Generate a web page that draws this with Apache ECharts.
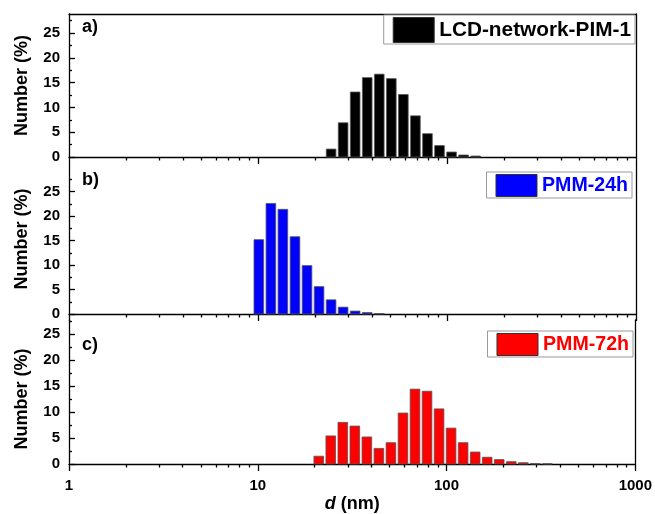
<!DOCTYPE html>
<html><head><meta charset="utf-8">
<script src="https://cdn.jsdelivr.net/npm/echarts@6/dist/echarts.min.js"></script>
<style>html,body{margin:0;padding:0;background:#fff}#c{width:655px;height:514px}</style>
</head><body><div id="c"></div>
<script>
// DLS size classes (nm) and number distributions (%)
const binsA = [24.36, 28.21, 32.67, 37.84, 43.82, 50.75, 58.77, 68.06, 78.82, 91.28, 105.7, 122.4, 141.8];
const valuesA = [1.6, 6.9, 13.1, 16.0, 16.7, 15.8, 12.6, 8.3, 4.7, 2.3, 1.0, 0.4, 0.2];
const binsB = [10.1, 11.7, 13.54, 15.69, 18.17, 21.04, 24.36, 28.21, 32.67, 37.84, 43.82];
const valuesB = [15.2, 22.6, 21.4, 15.8, 9.9, 5.6, 2.9, 1.4, 0.6, 0.3, 0.1];
const binsC = [21.04, 24.36, 28.21, 32.67, 37.84, 43.82, 50.75, 58.77, 68.06, 78.82, 91.28, 105.7, 122.4, 141.8, 164.2, 190.1, 220.2, 255.0, 295.3, 342.0];
const valuesC = [1.5, 5.4, 8.0, 7.3, 5.2, 3.0, 4.1, 9.8, 14.4, 14.0, 10.6, 6.9, 4.1, 2.3, 1.3, 0.85, 0.45, 0.25, 0.08, 0.05];
const seriesNames = ['LCD-network-PIM-1', 'PMM-24h', 'PMM-72h'];
const panelLetters = ['a)', 'b)', 'c)'];
const xMajorTicks = [1, 10, 100, 1000];
const xMinorTicks = [2,3,4,5,6,7,8,9,20,30,40,50,60,70,80,90,200,300,400,500,600,700,800,900];
const yMajorTicks = [0, 5, 10, 15, 20, 25];
const yMinorTicks = [2.5, 7.5, 12.5, 17.5, 22.5, 27.5];

const FONT = "'Liberation Sans', Arial, sans-serif";
const colors = ['#000000', '#0000ff', '#ff0000'];
const textColors = ['#000000', '#0000ff', '#ff0000'];
const panels = [
  {top: 14, height: 143, ymax: 28.83, bins: binsA, vals: valuesA, legTop: 15, legRight: 20, itemH: 25, fs: 20.8},
  {top: 164, height: 150, ymax: 30.67, bins: binsB, vals: valuesB, legTop: 172, legRight: 23, itemH: 22, fs: 19.6},
  {top: 320, height: 154, ymax: 27.7, bins: binsC, vals: valuesC, legTop: 331, legRight: 22, itemH: 22, fs: 19.6}
];
const HALF = Math.pow(1.1583, 0.4);

const grid = [], xAxis = [], yAxis = [], series = [], legend = [], graphic = [];
const lineStyle = {color: '#000', width: 1.3};
panels.forEach((p, i) => {
  grid.push({left: 69, width: 567, top: p.top, height: p.height, containLabel: false});
  const base = {gridIndex: i, type: 'log', logBase: 10, min: 1, max: 1000, splitLine: {show: false}};
  const xMainIdx = xAxis.length;
  xAxis.push(Object.assign({}, base, {
    position: 'bottom',
    axisLine: {show: true, onZero: false, lineStyle},
    axisTick: {show: true, inside: false, length: 7, lineStyle, customValues: xMajorTicks},
    axisLabel: {show: i === 2, customValues: xMajorTicks, margin: 14, fontFamily: FONT, fontWeight: 'bold', fontSize: 15, color: '#000',
      formatter: v => String(Math.round(v))},
    name: i === 2 ? '{it|d} (nm)' : '',
    nameLocation: 'middle', nameGap: 31,
    nameTextStyle: {fontFamily: FONT, fontWeight: 'bold', fontSize: 18, color: '#000',
      rich: {it: {fontFamily: FONT, fontWeight: 'bold', fontStyle: 'italic', fontSize: 18, color: '#000'}}}
  }));
  xAxis.push(Object.assign({}, base, {
    position: 'bottom',
    axisLine: {show: false, onZero: false},
    axisTick: {show: true, inside: false, length: 3.5, lineStyle, customValues: xMinorTicks},
    axisLabel: {show: false}
  }));
  if (i === 0) {
    xAxis.push(Object.assign({}, base, {
      position: 'top', axisLine: {show: true, onZero: false, lineStyle},
      axisTick: {show: false}, axisLabel: {show: false}
    }));
  }
  const ybase = {gridIndex: i, type: 'value', min: 0, max: p.ymax, splitLine: {show: false}};
  const yMainIdx = yAxis.length;
  yAxis.push(Object.assign({}, ybase, {
    position: 'left',
    axisLine: {show: true, onZero: false, lineStyle},
    axisTick: {show: true, inside: true, length: 6, lineStyle, customValues: yMajorTicks},
    axisLabel: {customValues: yMajorTicks, margin: 9, fontFamily: FONT, fontWeight: 'bold', fontSize: 15, color: '#000'},
    name: 'Number (%)', nameLocation: 'middle', nameGap: 38,
    nameTextStyle: {fontFamily: FONT, fontWeight: 'bold', fontSize: 18, color: '#000',
      padding: i === 2 ? [0, 14, 0, 0] : 0}
  }));
  yAxis.push(Object.assign({}, ybase, {
    position: 'left',
    axisLine: {show: false, onZero: false},
    axisTick: {show: true, inside: true, length: 3, lineStyle, customValues: yMinorTicks},
    axisLabel: {show: false}
  }));
  yAxis.push(Object.assign({}, ybase, {
    position: 'right',
    axisLine: {show: true, onZero: false, lineStyle},
    axisTick: {show: false}, axisLabel: {show: false}
  }));
  const col = colors[i];
  series.push({
    type: 'custom', name: seriesNames[i], xAxisIndex: xMainIdx, yAxisIndex: yMainIdx,
    itemStyle: {color: col},
    data: p.bins.map((d, k) => [d, p.vals[k]]),
    renderItem: function (params, api) {
      const d = api.value(0), v = api.value(1);
      const p0 = api.coord([d / HALF, v]);
      const p1 = api.coord([d * HALF, 0]);
      return {type: 'rect', shape: {x: p0[0], y: p0[1], width: p1[0] - p0[0], height: p1[1] - p0[1]},
        style: {fill: col, stroke: '#555', lineWidth: 0.8}};
    }
  });
  legend.push({
    right: p.legRight, top: p.legTop, orient: 'horizontal',
    data: [{name: seriesNames[i], icon: 'rect', itemStyle: {color: col, borderColor: '#333', borderWidth: 1},
      textStyle: {color: textColors[i]}}],
    itemWidth: 41, itemHeight: p.itemH,
    borderColor: '#999', borderWidth: 1, padding: [2, 4, 1, 9], backgroundColor: '#fff',
    textStyle: {fontFamily: FONT, fontWeight: 'bold', fontSize: p.fs},
    selectedMode: false
  });
  graphic.push({type: 'text', x: 82, y: [27, 180, 345][i],
    style: {text: panelLetters[i], font: 'bold 18px ' + FONT, fill: '#000', verticalAlign: 'middle'}});
});

const chart = echarts.init(document.getElementById('c'), null, {renderer: 'canvas'});
chart.setOption({animation: false, backgroundColor: '#fff', grid, xAxis, yAxis, series, legend, graphic});
</script></body></html>
